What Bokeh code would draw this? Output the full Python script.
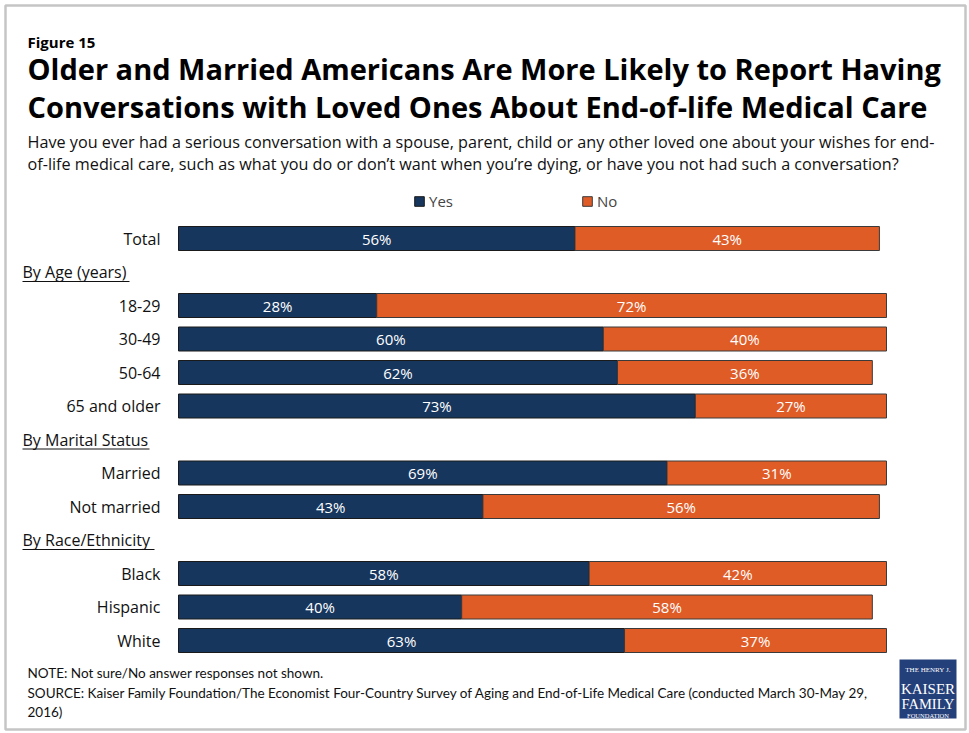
from bokeh.plotting import figure
from bokeh.models import Range1d, Label, ColumnDataSource, Legend, LegendItem, BoxAnnotation
from bokeh.core.properties import value
from bokeh.embed import file_html
from bokeh.resources import INLINE

# ---------------- data ----------------
rows = ["Total", "By Age (years)", "18-29", "30-49", "50-64", "65 and older",
        "By Marital Status", "Married", "Not married",
        "By Race/Ethnicity", "Black", "Hispanic", "White"]
headers = ["By Age (years)", "By Marital Status", "By Race/Ethnicity"]
bar_categories = ["Total", "18-29", "30-49", "50-64", "65 and older",
                  "Married", "Not married", "Black", "Hispanic", "White"]
yes_values = [56, 28, 60, 62, 73, 69, 43, 58, 40, 63]
no_values = [43, 72, 40, 36, 27, 31, 56, 42, 58, 37]
series_names = ["Yes", "No"]

NAVY = "#17365D"
ORANGE = "#E05C27"
FONT = "Open Sans"
NOTE_FONT = "Lato"

# ---------------- geometry ----------------
W, H = 969, 733
X0 = 178.0      # pixel of 0 %
PXPCT = 7.08    # pixels per percent
ROW0 = 238.0    # pixel of first row centre
PITCH = 33.5    # pixels per row


def X(rx):
    return (rx - X0) / PXPCT


def Y(ry):
    return (ry - ROW0) / PITCH


p = figure(width=W, height=H, output_backend="svg", toolbar_location=None,
           x_range=Range1d(-X0 / PXPCT, (W - X0) / PXPCT),
           y_range=Range1d((H - ROW0) / PITCH, -ROW0 / PITCH),
           x_axis_location=None, y_axis_location=None, min_border=0,
           outline_line_color=None,
           background_fill_color="white", border_fill_color="white")
p.grid.visible = False

# frame border of the figure card
p.add_layout(BoxAnnotation(left=X(5), right=X(965), top=Y(5), bottom=Y(729),
                           fill_alpha=0, line_color="#404040", line_width=2.5))

row_idx = [rows.index(c) for c in bar_categories]
src = ColumnDataSource(dict(
    y=row_idx, cat=bar_categories, yes=yes_values, no=no_values,
    total=[a + b for a, b in zip(yes_values, no_values)],
    yes_mid=[a / 2 for a in yes_values],
    no_mid=[a + b / 2 for a, b in zip(yes_values, no_values)],
    yes_lab=[f"{v}%" for v in yes_values],
    no_lab=[f"{v}%" for v in no_values],
))

bar_h = 24 / PITCH
r_yes = p.hbar(y="y", left=0, right="yes", height=bar_h, source=src,
               fill_color=NAVY, line_color="#1a1a1a", line_width=1)
r_no = p.hbar(y="y", left="yes", right="total", height=bar_h, source=src,
              fill_color=ORANGE, line_color="#3a3a3a", line_width=1)

p.text(x="yes_mid", y="y", text="yes_lab", source=src, text_color="white",
       text_font=value(FONT), text_font_size="15px", text_align="center",
       text_baseline="middle")
p.text(x="no_mid", y="y", text="no_lab", source=src, text_color="white",
       text_font=value(FONT), text_font_size="15px", text_align="center",
       text_baseline="middle")

# category labels
p.text(x=X(160), y="y", text="cat", source=src, text_color="#111111",
       text_font=value(FONT), text_font_size="16px", text_align="right",
       text_baseline="middle")

# section headers (underlined)
hdr_idx = [rows.index(h) for h in headers]
hsrc = ColumnDataSource(dict(y=hdr_idx, t=headers))
p.text(x=X(22), y="y", text="t", source=hsrc, text_color="#111111",
       text_font=value(FONT), text_font_size="16px", text_align="left",
       text_baseline="middle")
ul_right = [X(129), X(149), X(154)]
p.segment(x0=[X(22)] * 3, x1=ul_right, y0=[i + 9.5 / PITCH for i in hdr_idx],
          y1=[i + 9.5 / PITCH for i in hdr_idx], line_color="#111111", line_width=1)

# legend
legend = Legend(items=[LegendItem(label=series_names[0], renderers=[r_yes]),
                       LegendItem(label=series_names[1], renderers=[r_no])],
                orientation="horizontal", location=(413, 522),
                glyph_width=12, glyph_height=12, label_standoff=4,
                label_text_font=FONT, label_text_font_size="15px",
                spacing=128, padding=0, margin=0,
                border_line_color=None, background_fill_alpha=0)
p.add_layout(legend)


def lab(text, rx, ry, size, bold=False, color="#000000", align="left", font=FONT):
    p.add_layout(Label(x=X(rx), y=Y(ry), text=text, text_font=font,
                       text_font_size=size, text_color=color,
                       text_font_style="bold" if bold else "normal",
                       text_align=align, text_baseline="alphabetic"))


lab("Figure 15", 27, 41, "15px", bold=True)
lab("Older and Married Americans Are More Likely to Report Having", 27, 68, "29px", bold=True)
lab("Conversations with Loved Ones About End-of-life Medical Care", 27, 105.5, "29px", bold=True)
lab("Have you ever had a serious conversation with a spouse, parent, child or any other loved one about your wishes for end-",
    27, 141.5, "16.2px", color="#111111")
lab("of-life medical care, such as what you do or don\u2019t want when you\u2019re dying, or have you not had such a conversation?",
    27, 163.5, "16.2px", color="#111111")

lab("NOTE: Not sure/No answer responses not shown.", 27, 672, "13.5px", color="#111111", font=NOTE_FONT)
lab("SOURCE: Kaiser Family Foundation/The Economist Four-Country Survey of Aging and End-of-Life Medical Care (conducted March 30-May 29,",
    27, 692, "13.5px", color="#111111", font=NOTE_FONT)
lab("2016)", 27, 711, "13.5px", color="#111111", font=NOTE_FONT)

# logo
p.add_layout(BoxAnnotation(left=X(899), right=X(956), top=Y(659), bottom=Y(718),
                           fill_color="#24407A", fill_alpha=1, line_color=None))
SERIF = "Liberation Serif"
lab("THE HENRY J.", 927.5, 669, "7px", color="white", align="center", font=SERIF)
lab("KAISER", 927.5, 688, "15px", color="white", align="center", font=SERIF)
lab("FAMILY", 927.5, 703, "14.5px", color="white", align="center", font=SERIF)
lab("FOUNDATION", 927.5, 715, "6.5px", color="white", align="center", font=SERIF)
p.segment(x0=[X(903), X(903)], x1=[X(952), X(952)], y0=[Y(671.5), Y(706)],
          y1=[Y(671.5), Y(706)], line_color="white", line_width=0.6)

open("out.html", "w").write(file_html(p, INLINE))
